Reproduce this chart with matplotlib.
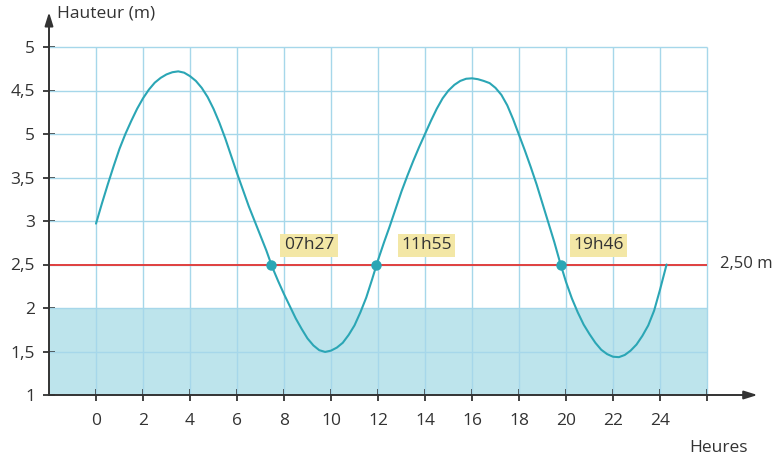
import matplotlib
matplotlib.use("Agg")
import matplotlib.pyplot as plt

plt.rcParams['font.family'] = ['Open Sans', 'DejaVu Sans']

# Data
hours = [0, 0.25, 0.5, 0.75, 1, 1.25, 1.5, 1.75, 2, 2.25, 2.5, 2.75, 3, 3.25,
         3.5, 3.75, 4, 4.25, 4.5, 4.75, 5, 5.25, 5.5, 5.75, 6, 6.25, 6.5, 6.75,
         7, 7.25, 7.5, 7.75, 8, 8.25, 8.5, 8.75, 9, 9.25, 9.5, 9.75, 10, 10.25,
         10.5, 10.75, 11, 11.25, 11.5, 11.75, 12, 12.25, 12.5, 12.75, 13, 13.25,
         13.5, 13.75, 14, 14.25, 14.5, 14.75, 15, 15.25, 15.5, 15.75, 16, 16.25,
         16.5, 16.75, 17, 17.25, 17.5, 17.75, 18, 18.25, 18.5, 18.75, 19, 19.25,
         19.5, 19.75, 20, 20.25, 20.5, 20.75, 21, 21.25, 21.5, 21.75, 22, 22.25,
         22.5, 22.75, 23, 23.25, 23.5, 23.75, 24, 24.28]
heights = [2.97, 3.20, 3.42, 3.63, 3.83, 4.00, 4.15, 4.29, 4.41, 4.51, 4.59, 4.645,
           4.685, 4.71, 4.72, 4.705, 4.665, 4.61, 4.53, 4.425, 4.29, 4.13, 3.95, 3.75,
           3.55, 3.36, 3.17, 3.00, 2.83, 2.66, 2.47, 2.31, 2.16, 2.02, 1.88, 1.76,
           1.65, 1.57, 1.515, 1.495, 1.51, 1.545, 1.60, 1.69, 1.80, 1.95, 2.12, 2.33,
           2.55, 2.75, 2.94, 3.14, 3.34, 3.52, 3.69, 3.85, 4.00, 4.15, 4.29, 4.41,
           4.50, 4.565, 4.61, 4.635, 4.64, 4.63, 4.61, 4.585, 4.53, 4.45, 4.33, 4.17,
           3.99, 3.81, 3.62, 3.42, 3.20, 2.98, 2.76, 2.52, 2.30, 2.11, 1.95, 1.81,
           1.70, 1.60, 1.52, 1.47, 1.44, 1.435, 1.46, 1.51, 1.58, 1.68, 1.80, 1.97,
           2.21, 2.50]
threshold = 2.5
cross_times = [7.45, 11.92, 19.77]
cross_labels = ["07h27", "11h55", "19h46"]
label_x = [9.06, 14.06, 21.38]
y_ticks = [1, 1.5, 2, 2.5, 3, 3.5, 4, 4.5, 5]
y_tick_labels = ["1", "1,5", "2", "2,5", "3", "3,5", "5", "4,5", "5"]
x_ticks = list(range(0, 27, 2))
x_tick_labels = [str(t) for t in range(0, 25, 2)] + [""]

W, H = 781, 459
fig = plt.figure(figsize=(W / 100, H / 100), dpi=100)
x0, x1 = -2, 28.3
y0, y1 = 1, 5.45
px_per_h = 23.5
px_per_m = 87.0
left_px = 96 - 2 * px_per_h
ax_w = (x1 - x0) * px_per_h
ax_h = (y1 - y0) * px_per_m
ax = fig.add_axes([left_px / W, (H - 395) / H, ax_w / W, ax_h / H])
ax.set_xlim(x0, x1)
ax.set_ylim(y0, y1)
for s in ax.spines.values():
    s.set_visible(False)

txt_c = '#333333'
grid_c = '#a6d7ea'
gx_max, gy_max = 26, 5
# shaded band
ax.fill_between([x0, gx_max], 1, 2, color='#bde4ec', zorder=1, lw=0)
# grid
ax.vlines(x_ticks, 1, gy_max, colors=grid_c, lw=1.0, zorder=2)
ax.hlines(y_ticks[1:], x0, gx_max, colors=grid_c, lw=1.0, zorder=2)

# threshold line
ax.hlines(threshold, x0, gx_max, colors='#e0403f', lw=1.4, zorder=3)
ax.text(26.55, threshold, "2,50 m", ha='left', va='center', fontsize=12,
        color=txt_c, clip_on=False)

# curve
teal = '#2ba6b5'
ax.plot(hours, heights, color=teal, lw=1.5, zorder=4, solid_joinstyle='round',
        solid_capstyle='round')
ax.plot(cross_times, [threshold] * len(cross_times), 'o', color=teal, ms=6.5,
        zorder=5)
for lx, lab in zip(label_x, cross_labels):
    ax.text(lx, 2.72, lab, ha='center', va='center', fontsize=12.5,
            color=txt_c, zorder=6,
            bbox=dict(boxstyle='square,pad=0.2', fc='#f3e7a6', ec='none'))

# axes arrows
axis_c = '#333333'
ax.annotate('', xy=(28.15, 1), xytext=(x0, 1),
            arrowprops=dict(arrowstyle='-|>,head_length=0.8,head_width=0.25',
                            color=axis_c, lw=1.4, shrinkA=0, shrinkB=0),
            annotation_clip=False, zorder=7)
ax.annotate('', xy=(x0, 5.4), xytext=(x0, 1),
            arrowprops=dict(arrowstyle='-|>,head_length=0.8,head_width=0.25',
                            color=axis_c, lw=1.4, shrinkA=0, shrinkB=0),
            annotation_clip=False, zorder=7)

ax.set_xticks(x_ticks)
ax.set_xticklabels(x_tick_labels)
ax.set_yticks(y_ticks)
ax.set_yticklabels(y_tick_labels)
ax.tick_params(axis='both', direction='inout', length=8, width=1.3,
               color=axis_c, labelcolor=txt_c, labelsize=12.5)
ax.tick_params(axis='x', pad=9)
ax.tick_params(axis='y', pad=6)

ax.text(-1.65, 5.38, "Hauteur (m)", ha='left', va='center', fontsize=12.5,
        color=txt_c, clip_on=False)
ax.text(26.5, 0.39, "Heures", ha='center', va='center', fontsize=12.5,
        color=txt_c, clip_on=False)

fig.savefig('out.png', dpi=100, facecolor='white')
